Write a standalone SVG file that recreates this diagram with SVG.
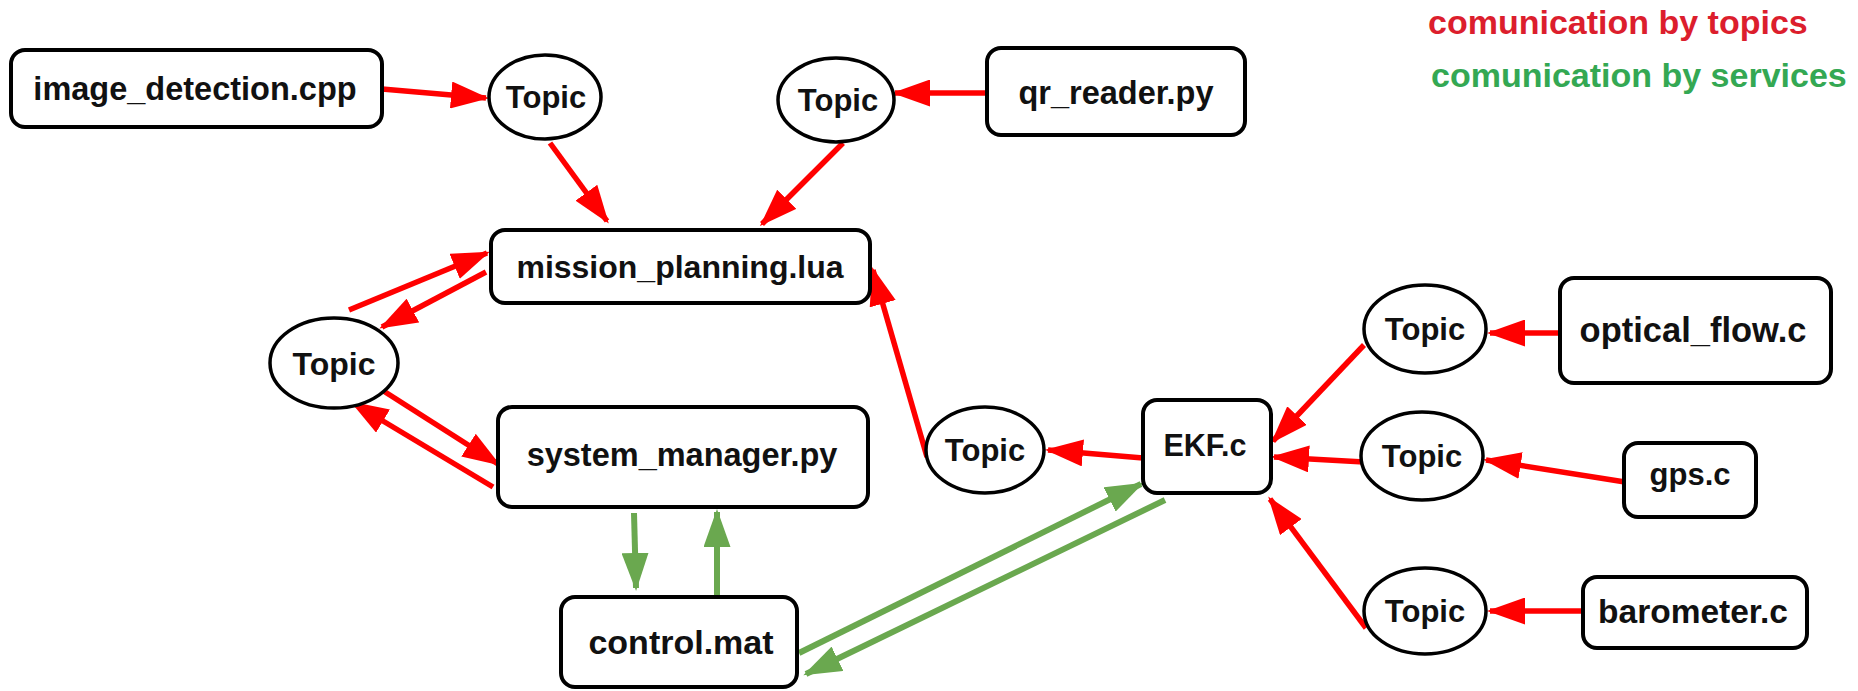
<svg xmlns="http://www.w3.org/2000/svg" width="1858" height="691" viewBox="0 0 1858 691">
  <style>
    .box { fill: #ffffff; stroke: #000000; stroke-width: 4; }
    .topic { fill: #ffffff; stroke: #000000; stroke-width: 3.5; }
    .lbl { font-family: "Liberation Sans", Arial, sans-serif; font-weight: bold; fill: #111111; text-anchor: middle; }
    .red { stroke: #ff0000; stroke-width: 5.5; fill: none; marker-end: url(#headRed); }
    .green { stroke: #6aa84f; stroke-width: 6; fill: none; marker-end: url(#headGreen); }
    .legend { font-family: "Liberation Sans", Arial, sans-serif; font-weight: bold; font-size: 34px; }
  </style>
  <defs>
    <marker id="headRed" markerUnits="userSpaceOnUse" markerWidth="38" markerHeight="27" refX="35" refY="13.5" orient="auto">
      <path d="M0,0 L38,13.5 L0,27 Z" fill="#ff0000"/>
    </marker>
    <marker id="headGreen" markerUnits="userSpaceOnUse" markerWidth="38" markerHeight="27" refX="35" refY="13.5" orient="auto">
      <path d="M0,0 L38,13.5 L0,27 Z" fill="#6aa84f"/>
    </marker>
  </defs>

  <rect width="1858" height="691" fill="#ffffff"/>

  <!-- legend -->
  <g id="legend">
    <text class="legend" x="1428" y="34" fill="#dc1e2d">comunication by topics</text>
    <text class="legend" x="1431" y="87" fill="#34a853">comunication by services</text>
  </g>

  <!-- connectors -->
  <g id="connectors">
    <line class="red" x1="382" y1="89" x2="486" y2="98"/>
    <line class="red" x1="987" y1="93" x2="895" y2="93"/>
    <line class="red" x1="550" y1="143" x2="607" y2="221"/>
    <line class="red" x1="843" y1="143" x2="762" y2="224"/>
    <line class="red" x1="349" y1="310" x2="487" y2="253"/>
    <line class="red" x1="486" y1="272" x2="382" y2="327"/>
    <line class="red" x1="382" y1="390" x2="498" y2="464"/>
    <line class="red" x1="493" y1="487" x2="353" y2="403"/>
    <line class="red" x1="927" y1="457" x2="873" y2="270"/>
    <line class="red" x1="1143" y1="458" x2="1048" y2="450"/>
    <line class="red" x1="1560" y1="333" x2="1490" y2="333"/>
    <line class="red" x1="1364" y1="345" x2="1273" y2="441"/>
    <line class="red" x1="1625" y1="482" x2="1486" y2="460"/>
    <line class="red" x1="1364" y1="462" x2="1274" y2="457"/>
    <line class="red" x1="1585" y1="611" x2="1490" y2="611"/>
    <line class="red" x1="1366" y1="628" x2="1270" y2="499"/>

    <line class="green" x1="634" y1="513" x2="636" y2="588"/>
    <line class="green" x1="717" y1="595" x2="717" y2="512"/>
    <line class="green" x1="799" y1="653" x2="1141" y2="484"/>
    <line class="green" x1="1165" y1="500" x2="806" y2="674"/>
  </g>

  <!-- program nodes -->
  <g id="image_detection">
    <rect class="box" x="11" y="50" width="371" height="77" rx="14"/>
    <text class="lbl" x="195" y="100" font-size="32.5">image_detection.cpp</text>
  </g>
  <g id="qr_reader">
    <rect class="box" x="987" y="48" width="258" height="87" rx="14"/>
    <text class="lbl" x="1116" y="104" font-size="32.5">qr_reader.py</text>
  </g>
  <g id="mission_planning">
    <rect class="box" x="491" y="230" width="379" height="73" rx="14"/>
    <text class="lbl" x="680" y="278" font-size="32">mission_planning.lua</text>
  </g>
  <g id="system_manager">
    <rect class="box" x="498" y="407" width="370" height="100" rx="14"/>
    <text class="lbl" x="682" y="466" font-size="32.5">system_manager.py</text>
  </g>
  <g id="control">
    <rect class="box" x="561" y="597" width="236" height="90" rx="14"/>
    <text class="lbl" x="681" y="654" font-size="34">control.mat</text>
  </g>
  <g id="ekf">
    <rect class="box" x="1143" y="400" width="128" height="93" rx="14"/>
    <text class="lbl" x="1205" y="456" font-size="30.5">EKF.c</text>
  </g>
  <g id="optical_flow">
    <rect class="box" x="1560" y="278" width="271" height="105" rx="14"/>
    <text class="lbl" x="1693" y="342" font-size="34.5">optical_flow.c</text>
  </g>
  <g id="gps">
    <rect class="box" x="1624" y="443" width="132" height="74" rx="14"/>
    <text class="lbl" x="1690" y="485" font-size="31">gps.c</text>
  </g>
  <g id="barometer">
    <rect class="box" x="1583" y="577" width="224" height="71" rx="14"/>
    <text class="lbl" x="1693" y="623" font-size="33.5">barometer.c</text>
  </g>

  <!-- topic nodes -->
  <g id="topic_image">
    <ellipse class="topic" cx="545" cy="97" rx="56" ry="42"/>
    <text class="lbl" x="546" y="108" font-size="31">Topic</text>
  </g>
  <g id="topic_qr">
    <ellipse class="topic" cx="836" cy="100" rx="58" ry="42"/>
    <text class="lbl" x="838" y="111" font-size="31">Topic</text>
  </g>
  <g id="topic_mission">
    <ellipse class="topic" cx="334" cy="363" rx="64" ry="45"/>
    <text class="lbl" x="334" y="375" font-size="32">Topic</text>
  </g>
  <g id="topic_ekf">
    <ellipse class="topic" cx="985" cy="450" rx="59" ry="43"/>
    <text class="lbl" x="985" y="461" font-size="31">Topic</text>
  </g>
  <g id="topic_optical">
    <ellipse class="topic" cx="1425" cy="329" rx="61" ry="44"/>
    <text class="lbl" x="1425" y="340" font-size="31">Topic</text>
  </g>
  <g id="topic_gps">
    <ellipse class="topic" cx="1422" cy="456" rx="61" ry="44"/>
    <text class="lbl" x="1422" y="467" font-size="31">Topic</text>
  </g>
  <g id="topic_barometer">
    <ellipse class="topic" cx="1425" cy="611" rx="61" ry="43"/>
    <text class="lbl" x="1425" y="622" font-size="31">Topic</text>
  </g>
</svg>
